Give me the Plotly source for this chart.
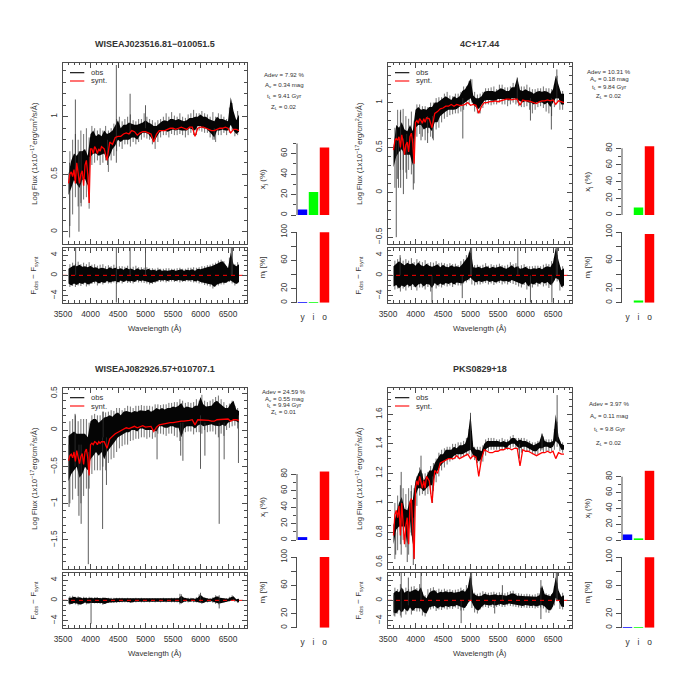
import plotly.graph_objects as go

W = 700.0

titles = ["WISEAJ023516.81\u2212010051.5", "4C+17.44", "WISEAJ082926.57+010707.1", "PKS0829+18"]
stats = [
    ["Adev = 7.92 %", "A<sub>v</sub> = 0.34 mag", "t<sub>L</sub> = 9.41 Gyr", "Z<sub>L</sub> = 0.02"],
    ["Adev = 10.31 %", "A<sub>v</sub> = 0.18 mag", "t<sub>L</sub> = 9.84 Gyr", "Z<sub>L</sub> = 0.02"],
    ["Adev = 24.59 %", "A<sub>v</sub> = 0.55 mag", "t<sub>L</sub> = 9.94 Gyr", "Z<sub>L</sub> = 0.01"],
    ["Adev = 3.97 %", "A<sub>v</sub> = 0.11 mag", "t<sub>L</sub> = 9.8 Gyr", "Z<sub>L</sub> = 0.02"],
]
bar_labels = ["y", "i", "o"]
bar_colors = ["#0000FF", "#00FF00", "#FF0000"]
x_light = [[5.3, 22.5, 65.8], [0, 9, 82.5], [3.5, 0, 83], [7, 1, 87.5]]
m_mass = [[0.5, 0.8, 99.5], [0, 3, 97], [0, 0, 100], [0.3, 0.3, 99.5]]

# dense black band, sampled every 50 A from 3600 to 6700
env_wave = [
    3600, 3650, 3700, 3750, 3800, 3850, 3900, 3950, 4000, 4050,
    4100, 4150, 4200, 4250, 4300, 4350, 4400, 4450, 4500, 4550,
    4600, 4650, 4700, 4750, 4800, 4850, 4900, 4950, 5000, 5050,
    5100, 5150, 5200, 5250, 5300, 5350, 5400, 5450, 5500, 5550,
    5600, 5650, 5700, 5750, 5800, 5850, 5900, 5950, 6000, 6050,
    6100, 6150, 6200, 6250, 6300, 6350, 6400, 6450, 6500, 6550,
    6600, 6650, 6700,
]
# grey noise fringe, sampled every 50 A between the band samples
fringe_wave = [
    3625, 3675, 3725, 3775, 3825, 3875, 3925, 3975, 4025, 4075,
    4125, 4175, 4225, 4275, 4325, 4375, 4425, 4475, 4525, 4575,
    4625, 4675, 4725, 4775, 4825, 4875, 4925, 4975, 5025, 5075,
    5125, 5175, 5225, 5275, 5325, 5375, 5425, 5475, 5525, 5575,
    5625, 5675, 5725, 5775, 5825, 5875, 5925, 5975, 6025, 6075,
    6125, 6175, 6225, 6275, 6325, 6375, 6425, 6475, 6525, 6575,
    6625, 6675,
]
synt_wave = [
    3600, 3625, 3650, 3675, 3700, 3725, 3750, 3775, 3800, 3825,
    3850, 3875, 3900, 3925, 3950, 3975, 4000, 4025, 4050, 4075,
    4100, 4125, 4150, 4175, 4200,
    4250, 4300, 4350, 4400, 4450, 4500, 4550, 4600, 4650, 4700,
    4750, 4800, 4850, 4900, 4950, 5000, 5050, 5100, 5150, 5200,
    5250, 5300, 5350, 5400, 5450, 5500, 5550, 5600, 5650, 5700,
    5750, 5800, 5850, 5900, 5950, 6000, 6050, 6100, 6150, 6200,
    6250, 6300, 6350, 6400, 6450, 6500, 6550, 6600, 6650, 6700,
]

obs_hi_1 = [
    .50, .62, .68, .66, .70, .70, .72, .66, .85, .88,
    .83, .85, .83, .88, .85, .86, .88, .93, .97, .90,
    .93, .93, .95, .94, .93, .93, .94, .95, .97, .95,
    .94, .92, .92, .94, .96, .97, .96, .98, .98, .97,
    .98, .97, .96, .97, .99, .99, 1.0, 1.0, 1.02, 1.0,
    1.0, .98, .97, .96, 1.0, .98, .98, .97, .96, 1.17,
    1.05, .97, 1.02,
]
obs_lo_1 = [
    .32, .38, .45, .42, .38, .45, .46, .40, .65, .68,
    .68, .66, .67, .68, .62, .66, .72, .75, .80, .78,
    .80, .80, .80, .82, .82, .80, .84, .86, .86, .85,
    .82, .78, .82, .86, .88, .88, .87, .88, .89, .88,
    .89, .88, .88, .88, .90, .89, .88, .92, .92, .90,
    .90, .88, .85, .82, .88, .88, .89, .88, .88, .93,
    .88, .85, .87,
]
obs_hi_2 = [
    .50, .75, .72, .78, .70, .68, .75, .68, .92, .95,
    .92, .93, .92, .95, .95, 1.0, 1.0, 1.03, 1.05, 1.07,
    1.05, 1.03, 1.07, 1.05, 1.07, 1.13, 1.15, 1.20, 1.27, 1.08,
    1.05, 1.05, 1.07, 1.12, 1.13, 1.13, 1.13, 1.12, 1.14, 1.16,
    1.15, 1.13, 1.13, 1.17, 1.17, 1.28, 1.14, 1.13, 1.15, 1.13,
    1.12, 1.10, 1.12, 1.13, 1.12, 1.13, 1.12, 1.10, 1.15, 1.30,
    1.20, 1.10, 1.10,
]
obs_lo_2 = [
    .28, .40, .45, .48, .42, .42, .42, .30, .72, .75,
    .75, .70, .72, .72, .68, .78, .78, .85, .88, .90,
    .92, .92, .92, .93, .95, .98, 1.0, 1.02, 1.05, .98,
    .95, .93, .98, 1.02, 1.03, 1.03, 1.02, 1.02, 1.04, 1.04,
    1.04, 1.04, 1.02, 1.05, 1.05, 1.04, 1.02, 1.0, 1.02, 1.0,
    1.0, .98, 1.0, 1.0, 1.0, .98, 1.0, .95, 1.0, 1.05,
    1.05, .98, .98,
]
obs_hi_3 = [
    -.08, -.05, -.02, -.05, -.05, -.05, -.05, -.10, .12, .15,
    .15, .10, .13, .17, .18, .20, .18, .22, .24, .20,
    .25, .26, .25, .24, .26, .25, .27, .27, .26, .28,
    .25, .27, .30, .28, .30, .28, .30, .30, .32, .31,
    .33, .37, .30, .32, .31, .30, .33, .33, .45, .35,
    .32, .33, .33, .38, .40, .36, .33, .30, .30, .36,
    .40, .28, .26,
]
obs_lo_3 = [
    -.70, -.60, -.55, -.50, -.65, -.60, -.50, -.55, -.40, -.35,
    -.30, -.35, -.30, -.40, -.30, -.25, -.20, -.15, -.10, -.08,
    -.05, -.03, -.03, .0, .0, -.02, .02, .02, .0, .0,
    .0, .0, -.02, .05, .05, .03, .03, .05, .05, .03,
    .03, -.10, .02, .05, .05, .05, .02, .06, .08, .05,
    .07, .07, .08, .06, .05, .05, .07, .05, .10, .12,
    .13, .12, .10,
]
obs_hi_4 = [
    .85, .93, 1.0, 1.04, .96, .95, 1.02, 1.02, 1.15, 1.20,
    1.23, 1.15, 1.18, 1.22, 1.22, 1.27, 1.30, 1.33, 1.33, 1.36,
    1.36, 1.36, 1.38, 1.37, 1.39, 1.39, 1.40, 1.45, 1.60, 1.38,
    1.36, 1.36, 1.35, 1.40, 1.42, 1.42, 1.42, 1.42, 1.42, 1.41,
    1.42, 1.41, 1.42, 1.44, 1.44, 1.42, 1.43, 1.42, 1.42, 1.41,
    1.40, 1.39, 1.40, 1.41, 1.47, 1.42, 1.41, 1.41, 1.42, 1.60,
    1.45, 1.40, 1.39,
]
obs_lo_4 = [
    .72, .82, .84, .84, .84, .72, .88, .72, 1.05, 1.10,
    1.10, 1.08, 1.10, 1.12, 1.12, 1.18, 1.22, 1.25, 1.27, 1.29,
    1.30, 1.30, 1.32, 1.33, 1.33, 1.33, 1.34, 1.35, 1.36, 1.32,
    1.30, 1.28, 1.30, 1.35, 1.37, 1.38, 1.38, 1.38, 1.38, 1.38,
    1.38, 1.37, 1.39, 1.40, 1.40, 1.38, 1.37, 1.38, 1.38, 1.37,
    1.36, 1.35, 1.35, 1.37, 1.37, 1.38, 1.38, 1.37, 1.38, 1.42,
    1.40, 1.36, 1.36,
]

fr_hi_1 = [
    .70, .80, .85, .80, .88, .85, .90, .82, .92, .90,
    .88, .90, .88, .92, .88, .90, .94, .98, 1.0, .96,
    .98, 1.0, 1.02, .97, .96, .98, .98, 1.03, 1.0, .98,
    .97, .95, .97, .98, 1.0, 1.03, 1.0, 1.04, 1.01, 1.0,
    1.03, 1.0, .99, 1.02, 1.03, 1.06, 1.03, 1.03, 1.05, 1.03,
    1.02, 1.0, 1.04, 1.0, 1.03, 1.02, 1.0, .98, 1.08, 1.12,
    .99, 1.05,
]
fr_lo_1 = [
    .05, .15, .30, .22, .25, .28, .30, .20, .58, .60,
    .62, .58, .60, .62, .52, .62, .66, .70, .74, .72,
    .76, .76, .74, .78, .76, .78, .80, .82, .81, .80,
    .76, .72, .78, .82, .84, .84, .82, .85, .84, .84,
    .85, .84, .82, .84, .86, .84, .84, .88, .87, .86,
    .86, .82, .80, .78, .84, .84, .86, .84, .86, .88,
    .83, .84,
]
fr_hi_2 = [
    .72, .92, .90, .93, .85, .82, .90, .80, .98, .98,
    .96, .96, .95, 1.0, 1.0, 1.05, 1.06, 1.06, 1.10, 1.12,
    1.08, 1.07, 1.10, 1.10, 1.12, 1.18, 1.18, 1.24, 1.26, 1.12,
    1.09, 1.10, 1.12, 1.16, 1.16, 1.17, 1.18, 1.15, 1.20, 1.20,
    1.17, 1.17, 1.18, 1.22, 1.20, 1.20, 1.18, 1.18, 1.20, 1.17,
    1.15, 1.15, 1.16, 1.16, 1.18, 1.16, 1.16, 1.15, 1.20, 1.30,
    1.13, 1.13,
]
fr_lo_2 = [
    .05, .15, .25, .25, .22, .25, .20, .10, .62, .65,
    .62, .58, .66, .62, .58, .70, .72, .78, .82, .84,
    .86, .87, .88, .88, .90, .92, .96, .98, 1.0, .90,
    .88, .88, .94, .98, .98, .97, .98, .98, 1.0, .98,
    .98, .96, .98, 1.0, .98, .96, .95, .95, .96, .92,
    .88, .92, .95, .96, .94, .90, .88, .85, .95, 1.0,
    .92, .92,
]
fr_hi_3 = [
    .12, .15, .20, .12, .15, .15, .15, .10, .20, .22,
    .20, .20, .25, .24, .25, .27, .26, .30, .30, .27,
    .30, .33, .32, .30, .33, .33, .34, .33, .33, .33,
    .32, .35, .35, .34, .35, .35, .37, .37, .38, .38,
    .42, .40, .37, .38, .37, .38, .42, .40, .48, .40,
    .38, .40, .42, .45, .47, .42, .38, .34, .36, .40,
    .33, .30,
]
fr_lo_3 = [
    -1.0, -.95, -.80, -.90, -1.0, -.90, -.80, -.80, -.60, -.55,
    -.55, -.55, -.50, -.55, -.45, -.40, -.38, -.30, -.25, -.22,
    -.20, -.20, -.15, -.14, -.12, -.12, -.10, -.10, -.12, -.10,
    -.12, -.10, -.05, -.05, -.06, -.08, -.05, -.05, -.08, -.10,
    -.15, -.05, -.03, -.02, -.02, -.06, -.03, -.03, -.05, .0,
    -.03, -.02, -.02, -.06, -.10, -.05, -.08, .0, .03, .05,
    .06, .02,
]
fr_hi_4 = [
    1.0, 1.05, 1.12, 1.10, 1.06, 1.10, 1.12, 1.10, 1.18, 1.24,
    1.20, 1.20, 1.21, 1.25, 1.27, 1.30, 1.34, 1.36, 1.37, 1.38,
    1.38, 1.40, 1.40, 1.41, 1.41, 1.42, 1.44, 1.50, 1.42, 1.38,
    1.38, 1.38, 1.39, 1.43, 1.44, 1.44, 1.44, 1.43, 1.43, 1.44,
    1.43, 1.43, 1.45, 1.46, 1.44, 1.44, 1.44, 1.44, 1.43, 1.42,
    1.41, 1.41, 1.42, 1.43, 1.45, 1.43, 1.43, 1.43, 1.50, 1.55,
    1.42, 1.41,
]
fr_lo_4 = [
    .62, .68, .72, .75, .70, .65, .78, .62, .98, 1.05,
    1.06, 1.05, 1.06, 1.06, 1.08, 1.14, 1.18, 1.22, 1.24, 1.26,
    1.28, 1.29, 1.30, 1.30, 1.31, 1.31, 1.32, 1.33, 1.31, 1.29,
    1.27, 1.26, 1.28, 1.32, 1.35, 1.36, 1.36, 1.36, 1.36, 1.36,
    1.36, 1.36, 1.37, 1.38, 1.37, 1.36, 1.34, 1.36, 1.35, 1.35,
    1.33, 1.33, 1.33, 1.35, 1.34, 1.35, 1.35, 1.35, 1.36, 1.38,
    1.35, 1.34,
]

synt_1 = [
    .42, .50, .52, .48, .54, .42, .60, .52, .42, .50,
    .53, .40, .58, .62, .50, .25, .72, .72, .68, .74,
    .72, .68, .72, .70, .74,
    .72, .62, .78, .76, .82, .83, .83, .85, .86, .85,
    .88, .87, .84, .86, .87, .87, .86, .85, .78, .85,
    .88, .88, .88, .89, .90, .90, .89, .90, .91, .90,
    .89, .91, .91, .83, .90, .91, .91, .90, .89, .88,
    .88, .89, .90, .90, .91, .90, .86, .89, .89, .88,
]
synt_2 = [
    .47, .58, .60, .58, .62, .50, .64, .56, .42, .53,
    .56, .45, .62, .66, .55, .32, .78, .80, .77, .82,
    .80, .77, .82, .78, .83,
    .82, .72, .88, .90, .93, .94, .96, .96, .98, .96,
    .98, .97, .97, .98, 1.0, .97, .98, .97, .88, .96,
    1.0, 1.0, 1.01, 1.01, 1.02, 1.01, 1.02, 1.03, 1.04, 1.04,
    1.03, 1.04, 1.04, .97, 1.03, 1.02, 1.02, 1.01, 1.0, .99,
    1.01, 1.02, 1.02, 1.03, 1.02, 1.03, .98, 1.02, 1.01, 1.0,
]
synt_3 = [
    -.42, -.35, -.33, -.38, -.30, -.43, -.28, -.36, -.46, -.36,
    -.32, -.47, -.30, -.26, -.38, -.62, -.20, -.18, -.20, -.16,
    -.17, -.20, -.16, -.18, -.16,
    -.16, -.25, -.12, -.08, -.05, -.03, -.01, .01, .03, .02,
    .04, .05, .03, .04, .06, .04, .05, .05, -.02, .04,
    .07, .08, .09, .09, .10, .10, .11, .11, .12, .12,
    .12, .13, .14, .07, .14, .14, .14, .13, .13, .12,
    .12, .14, .14, .15, .15, .15, .12, .14, .14, .13,
]
synt_4 = [
    .78, .92, .95, .90, .98, .78, 1.0, .88, .72, .85,
    .90, .72, 1.0, 1.03, .85, .62, 1.10, 1.15, 1.12, 1.18,
    1.14, 1.10, 1.15, 1.10, 1.18,
    1.15, 1.0, 1.22, 1.20, 1.27, 1.28, 1.29, 1.30, 1.30, 1.30,
    1.32, 1.30, 1.31, 1.32, 1.33, 1.30, 1.32, 1.31, 1.18, 1.30,
    1.36, 1.35, 1.34, 1.34, 1.35, 1.35, 1.36, 1.36, 1.37, 1.37,
    1.36, 1.37, 1.37, 1.25, 1.36, 1.35, 1.35, 1.34, 1.33, 1.32,
    1.33, 1.34, 1.34, 1.35, 1.34, 1.35, 1.30, 1.34, 1.33, 1.33,
]

res_hi_1 = [
    1.3, 1.7, 2.0, 1.8, 2.1, 1.7, 1.8, 1.6, 1.9, 1.5,
    1.6, 1.3, 1.5, 1.4, 1.2, 1.6, 1.3, 1.5, 1.2, 1.4,
    1.1, 1.5, 1.2, 1.3, 1.0, 1.4, 1.1, 1.2, 1.0, 1.3,
    1.0, 1.1, 0.9, 1.2, 0.9, 1.0, 0.9, 1.0, 1.1, 0.9,
    1.0, 1.2, 0.9, 1.1, 1.0, 1.2, 0.9, 1.3, 1.2, 1.4,
    1.5, 1.7, 1.8, 2.0, 2.3, 2.6, 2.8, 2.2, 1.4, 4.5,
    2.2, 1.8, 2.2,
]
res_lo_1 = [
    -1.6, -2.0, -1.6, -1.9, -1.5, -1.7, -1.4, -1.8, -1.6, -1.3,
    -1.2, -1.6, -1.3, -1.5, -1.1, -1.4, -1.2, -1.1, -1.4, -1.0,
    -1.3, -1.0, -1.2, -1.1, -1.3, -0.9, -1.1, -1.0, -1.2, -1.3,
    -1.5, -1.3, -1.2, -0.9, -1.0, -0.9, -1.1, -0.9, -0.9, -1.1,
    -0.9, -1.0, -1.1, -0.9, -1.0, -0.9, -1.2, -1.0, -1.3, -1.4,
    -1.6, -1.7, -1.8, -2.3, -1.8, -1.6, -1.4, -1.5, -1.2, -1.0,
    -1.4, -1.7, -1.3,
]
res_hi_2 = [
    1.8, 2.3, 2.8, 2.4, 2.0, 2.5, 2.2, 2.4, 1.9, 2.6,
    2.0, 1.8, 2.3, 1.9, 1.7, 1.9, 2.2, 1.6, 2.1, 1.7,
    1.6, 2.0, 1.7, 1.8, 1.6, 2.2, 2.8, 3.6, 5.4, 1.6,
    1.5, 1.7, 1.4, 1.6, 1.8, 1.4, 1.7, 1.5, 1.6, 1.8,
    1.5, 1.3, 1.6, 2.0, 1.5, 1.8, 1.3, 1.4, 1.7, 1.3,
    1.2, 1.4, 1.3, 1.5, 1.2, 1.6, 1.8, 1.6, 2.5, 5.4,
    3.0, 1.0, 1.4,
]
res_lo_2 = [
    -2.2, -1.9, -2.6, -2.0, -2.3, -1.8, -2.2, -1.7, -2.4, -1.8,
    -1.6, -2.2, -1.7, -1.8, -2.5, -1.5, -2.0, -1.6, -1.9, -1.5,
    -1.7, -1.4, -1.8, -1.4, -1.5, -1.6, -1.1, -0.9, -0.4, -1.0,
    -1.4, -1.1, -1.3, -1.2, -1.0, -1.3, -1.1, -1.4, -1.2, -1.0,
    -1.2, -1.1, -1.3, -0.9, -1.2, -1.4, -1.6, -1.8, -1.3, -2.2,
    -1.6, -1.8, -1.4, -1.7, -1.3, -1.6, -1.3, -1.9, -1.5, -0.5,
    -0.8, -2.3, -2.0,
]
res_hi_3 = [
    .5, .5, .7, .5, .6, .4, .5, .4, .5, .4,
    .5, .4, .4, .5, .4, .4, .3, .4, .4, .3,
    .4, .3, .4, .3, .3, .4, .3, .4, .3, .3,
    .3, .3, .3, .3, .3, .4, .3, .3, .4, .3,
    .4, .9, .5, .4, .3, .4, .3, .5, 1.1, .6,
    .4, .3, .3, .5, .8, .5, .4, .3, .3, .6,
    .8, .2, .3,
]
res_lo_3 = [
    -.6, -.7, -.5, -.6, -.8, -.7, -.4, -.6, -.5, -.4,
    -.4, -.5, -.5, -.7, -.5, -.4, -.4, -.3, -.4, -.3,
    -.3, -.3, -.3, -.4, -.3, -.3, -.2, -.3, -.3, -.2,
    -.3, -.2, -.3, -.2, -.3, -.2, -.3, -.2, -.3, -.3,
    -.3, -.6, -.3, -.2, -.3, -.2, -.3, -.3, -.4, -.5,
    -.3, -.3, -.2, -.4, -.5, -.6, -.4, -.3, -.2, -.1,
    .1, -.1, -.4,
]
res_hi_4 = [
    1.4, 1.9, 1.6, 2.6, 1.5, 1.9, 1.7, 2.0, 2.2, 1.8,
    2.6, 0.9, 0.4, 1.5, 1.9, 2.0, 1.4, 1.7, 1.6, 1.8,
    1.6, 1.7, 1.5, 1.6, 1.7, 2.0, 1.7, 2.5, 5.4, 1.4,
    1.0, 0.8, 0.9, 1.3, 1.2, 1.0, 1.1, 1.2, 1.0, 1.1,
    1.0, 0.9, 1.1, 1.4, 1.3, 0.9, 0.9, 0.8, 0.8, 0.8,
    0.8, 0.7, 0.7, 1.0, 3.0, 1.2, 1.0, 0.8, 1.6, 4.6,
    2.0, 0.7, 1.0,
]
res_lo_4 = [
    -2.4, -2.6, -1.8, -2.4, -1.6, -2.2, -1.4, -2.1, -1.5, -1.6,
    -1.6, -2.4, -2.6, -1.4, -1.2, -1.1, -1.6, -1.2, -1.4, -1.1,
    -1.3, -1.1, -1.2, -0.9, -1.2, -1.4, -1.5, -0.7, 0.2, -1.0,
    -1.8, -2.0, -1.3, -0.8, -0.9, -1.0, -0.8, -1.0, -0.8, -0.7,
    -0.9, -0.8, -0.6, -0.7, -0.8, -0.9, -1.0, -1.1, -0.9, -1.0,
    -1.1, -1.0, -1.2, -1.0, -0.9, -1.2, -1.8, -2.0, -1.2, 0.5,
    0.0, -1.2, -1.3,
]

res_fr_hi_1 = [
    2.2, 2.5, 2.3, 2.7, 2.2, 2.5, 2.2, 2.6, 2.1, 2.2,
    1.9, 2.1, 2.2, 1.8, 2.0, 1.8, 2.1, 1.7, 1.8, 1.8,
    1.7, 1.9, 1.5, 1.7, 1.9, 1.6, 1.6, 1.5, 1.6, 1.4,
    1.4, 1.3, 1.5, 1.3, 1.3, 1.4, 1.4, 1.3, 1.3, 1.4,
    1.5, 1.3, 1.3, 1.5, 1.5, 1.6, 1.5, 1.6, 1.8, 1.8,
    2.0, 2.1, 2.3, 2.5, 2.9, 3.1, 2.8, 1.8, 3.5, 2.5,
    2.2, 2.6,
]
res_fr_lo_1 = [
    -2.3, -2.1, -2.3, -2.0, -2.1, -1.8, -2.2, -2.0, -1.7, -1.6,
    -2.0, -1.6, -1.8, -1.5, -1.6, -1.6, -1.4, -1.7, -1.4, -1.6,
    -1.3, -1.5, -1.5, -1.6, -1.3, -1.4, -1.4, -1.5, -1.6, -1.8,
    -1.7, -1.5, -1.3, -1.3, -1.2, -1.4, -1.3, -1.2, -1.3, -1.2,
    -1.4, -1.3, -1.2, -1.2, -1.3, -1.4, -1.4, -1.6, -1.6, -1.9,
    -2.0, -2.2, -2.6, -2.2, -2.0, -1.8, -1.8, -1.5, -1.3, -1.6,
    -2.0, -1.6,
]
res_fr_hi_2 = [
    2.9, 3.2, 3.5, 2.9, 3.2, 2.9, 3.4, 2.6, 3.2, 2.8,
    2.6, 3.0, 2.4, 2.6, 2.5, 2.8, 2.4, 2.5, 2.4, 2.2,
    2.4, 2.2, 2.3, 2.0, 2.8, 3.2, 4.0, 4.5, 2.2, 2.0,
    2.1, 1.9, 2.1, 2.4, 1.9, 2.2, 2.0, 2.1, 2.3, 2.0,
    1.9, 2.1, 2.6, 2.2, 2.4, 1.8, 2.0, 2.2, 1.8, 1.8,
    1.8, 1.9, 1.9, 1.8, 2.1, 2.3, 2.2, 2.8, 3.5, 4.0,
    1.6, 1.8,
]
res_fr_lo_2 = [
    -2.8, -2.6, -3.2, -2.6, -3.0, -2.4, -2.9, -2.3, -3.0, -2.4,
    -2.4, -2.8, -2.3, -3.2, -2.0, -2.6, -2.2, -2.4, -2.0, -2.2,
    -2.0, -2.3, -1.9, -2.0, -2.0, -1.6, -1.4, -1.0, -1.8, -2.0,
    -1.8, -1.8, -1.6, -1.5, -1.8, -1.6, -1.9, -1.6, -1.5, -1.8,
    -1.6, -1.8, -1.5, -1.7, -1.9, -2.2, -2.4, -1.9, -2.8, -2.2,
    -2.4, -1.9, -2.2, -1.8, -2.2, -2.0, -2.5, -2.0, -1.0, -1.2,
    -3.0, -2.4,
]
res_fr_hi_3 = [
    .8, .9, .7, .8, .6, .7, .6, .7, .6, .6,
    .6, .5, .6, .5, .5, .5, .5, .5, .5, .5,
    .4, .5, .4, .4, .5, .4, .5, .4, .4, .4,
    .4, .4, .4, .4, .5, .4, .4, .5, .5, .5,
    1.3, .7, .5, .5, .5, .4, .6, 1.2, .8, .5,
    .4, .4, .6, 1.0, .8, .5, .4, .4, .7, 1.0,
    .3, .3,
]
res_fr_lo_3 = [
    -.9, -.7, -.8, -1.0, -.9, -.6, -.8, -.6, -.5, -.6,
    -.6, -.7, -.9, -.7, -.5, -.5, -.5, -.5, -.4, -.4,
    -.4, -.4, -.5, -.4, -.4, -.3, -.4, -.4, -.3, -.4,
    -.3, -.4, -.3, -.4, -.3, -.4, -.3, -.4, -.4, -.4,
    -.8, -.4, -.3, -.4, -.3, -.4, -.4, -.5, -.7, -.4,
    -.4, -.3, -.5, -.7, -.8, -.5, -.4, -.3, -.2, -.1,
    -.3, -.5,
]
res_fr_hi_4 = [
    2.5, 2.2, 3.2, 2.2, 2.5, 2.2, 2.7, 2.8, 2.4, 3.2,
    1.6, 1.0, 2.2, 2.4, 2.6, 2.0, 2.3, 2.1, 2.3, 2.1,
    2.2, 2.0, 2.1, 2.2, 2.5, 2.2, 3.0, 3.0, 2.0, 1.5,
    1.3, 1.5, 1.8, 1.6, 1.5, 1.6, 1.7, 1.5, 1.6, 1.5,
    1.4, 1.6, 1.8, 1.9, 1.4, 1.4, 1.3, 1.2, 1.3, 1.2,
    1.1, 1.2, 1.4, 2.5, 1.8, 1.4, 1.2, 1.2, 2.8, 3.5,
    1.2, 1.5,
]
res_fr_lo_4 = [
    -3.2, -2.6, -3.0, -2.2, -2.8, -2.0, -2.8, -2.1, -2.2, -2.2,
    -3.0, -3.2, -2.0, -1.8, -1.6, -2.1, -1.8, -1.9, -1.6, -1.8,
    -1.6, -1.7, -1.4, -1.7, -2.0, -2.0, -1.1, -0.3, -1.5, -2.4,
    -2.6, -1.8, -1.4, -1.3, -1.5, -1.3, -1.5, -1.3, -1.1, -1.3,
    -1.3, -1.0, -1.1, -1.2, -1.3, -1.4, -1.5, -1.4, -1.5, -1.5,
    -1.5, -1.6, -1.5, -1.4, -1.6, -2.4, -2.5, -1.8, -1.0, -0.2,
    -1.7, -1.8,
]

# narrow features drawn on top of the envelope: wavelength, lowest, highest
spike_wave_1 = [3620, 3725, 3790, 3830, 3980, 4310, 4470, 4720, 5000, 6250]
spike_lo_1 = [-.05, .45, .0, .22, .25, .58, .60, .85, .90, .80]
spike_hi_1 = [.60, 1.15, .70, .70, .65, .80, 1.45, 1.20, 1.10, .90]
spike_wave_2 = [3650, 3690, 3730, 3780, 3840, 3960, 4100, 4220, 4310, 4860, 5850, 6090, 6470, 6570]
spike_lo_2 = [-.50, .05, .05, -.02, .15, .03, .58, .55, .60, .60, 1.0, .80, .70, 1.05]
spike_hi_2 = [.70, .60, .92, .60, .65, .60, .80, .85, .85, 1.05, 1.28, 1.05, 1.05, 1.37]
spike_wave_3 = [3610, 3720, 3790, 3830, 3960, 4220, 4230, 4290, 5210, 5640, 5680, 6000, 6080, 6340, 6430, 6690]
spike_lo_3 = [-1.05, -.5, -1.17, -1.28, -1.83, -1.35, -.1, -.75, -.40, -.35, -.42, -.53, -.35, -1.28, -.40, -.45]
spike_hi_3 = [-.2, .22, -.2, -.2, -.3, -.1, .25, -.1, .05, .1, .1, .2, .1, .1, .1, .2]
spike_wave_4 = [3640, 3740, 3850, 3920, 3960, 4100, 4310, 5000, 6300, 6575, 5890]
spike_lo_4 = [.65, .65, .60, .80, .58, 1.10, 1.0, 1.36, 1.36, 1.42, 1.30]
spike_hi_4 = [.80, 1.21, .90, 1.08, .90, 1.32, 1.18, 1.61, 1.47, 1.73, 1.40]

res_spike_wave_1 = [3730, 4470, 4720, 5000, 6560, 6580]
res_spike_lo_1 = [0, -5.4, 0, 0, 0, 0]
res_spike_hi_1 = [5.4, 5.4, 5.4, 5.4, 5.4, 5.4]
res_spike_wave_2 = [3720, 4300, 4850, 5000, 5020, 5860, 6090, 6480, 6560, 6580]
res_spike_lo_2 = [0, -5.4, -4.5, 0, 0, 0, -5.4, -5.4, 0, 0]
res_spike_hi_2 = [4, 0, 0, 5.4, 5.4, 5.4, 0, 0, 5.4, 5.4]
res_spike_wave_3 = [4010, 5650, 6000, 6340]
res_spike_lo_3 = [-4.6, -.5, -.5, -1.6]
res_spike_hi_3 = [0, 1.2, 1.5, 1.0]
res_spike_wave_4 = [3610, 3740, 3870, 4100, 4830, 5000, 5020, 5440, 5580, 6280, 6560, 6580]
res_spike_lo_4 = [-3, -3.4, -1, 0, -4.5, 0, 0, -2.6, 0, -3.7, 0, 0]
res_spike_hi_4 = [1, 5.4, 4.5, 5.4, 0, 5.4, 5.4, 0, 3, 4, 5.4, 5.4]

obs_hi = [obs_hi_1, obs_hi_2, obs_hi_3, obs_hi_4]
obs_lo = [obs_lo_1, obs_lo_2, obs_lo_3, obs_lo_4]
fr_hi = [fr_hi_1, fr_hi_2, fr_hi_3, fr_hi_4]
fr_lo = [fr_lo_1, fr_lo_2, fr_lo_3, fr_lo_4]
synt = [synt_1, synt_2, synt_3, synt_4]
res_hi = [res_hi_1, res_hi_2, res_hi_3, res_hi_4]
res_lo = [res_lo_1, res_lo_2, res_lo_3, res_lo_4]
res_fr_hi = [res_fr_hi_1, res_fr_hi_2, res_fr_hi_3, res_fr_hi_4]
res_fr_lo = [res_fr_lo_1, res_fr_lo_2, res_fr_lo_3, res_fr_lo_4]
spikes = [(spike_wave_1, spike_lo_1, spike_hi_1), (spike_wave_2, spike_lo_2, spike_hi_2),
          (spike_wave_3, spike_lo_3, spike_hi_3), (spike_wave_4, spike_lo_4, spike_hi_4)]
res_spikes = [(res_spike_wave_1, res_spike_lo_1, res_spike_hi_1), (res_spike_wave_2, res_spike_lo_2, res_spike_hi_2),
              (res_spike_wave_3, res_spike_lo_3, res_spike_hi_3), (res_spike_wave_4, res_spike_lo_4, res_spike_hi_4)]

for a in obs_hi + obs_lo + res_hi + res_lo:
    assert len(a) == len(env_wave), len(a)
for a in fr_hi + fr_lo + res_fr_hi + res_fr_lo:
    assert len(a) == len(fringe_wave), len(a)
for a in synt:
    assert len(a) == len(synt_wave), len(a)

# layout of each panel in window pixels
col_x = [0, 325]
row_y = [0, 325]
main_ranges = [[-0.107, 1.47], [-0.576, 1.445], [-1.896, 0.577], [0.553, 1.78]]
main_major = [0.5, 0.5, 0.5, 0.2]
main_minor = [0.1, 0.1, 0.1, 0.05]
x_axis_top = [70, 80, 80, 80]
x_range_top = [70, 83, 83.5, 88]
x_bar_top_px = [143.3, 148.3, 474.0, 476.7]
x_bar_zero_px = [215, 215, 540, 540]
stat_y = [[75, 85.3, 96, 106.7], [71.3, 78.7, 87, 95.7], [391.7, 398.7, 405.3, 411.7], [403.3, 416, 429.3, 442.7]]

AXC = "#4d4d4d"
FONT = "Liberation Sans"
TICK = 8.4
TXT = "#333333"

fig = go.Figure()
layout = dict(
    template="none",
    width=700, height=700, autosize=False, margin=dict(l=0, r=0, t=0, b=0, pad=0),
    paper_bgcolor="white", plot_bgcolor="white", showlegend=False,
    font=dict(family=FONT, size=TICK, color=TXT), barmode="overlay",
)
annotations, shapes = [], []


def fx(p):
    return p / W


def fy(p):
    return 1 - p / W


def text(x, y, s, size=TICK, angle=0, bold=False, xanchor="center"):
    annotations.append(dict(
        x=fx(x), y=fy(y), xref="paper", yref="paper", text=f"<b>{s}</b>" if bold else s,
        showarrow=False, font=dict(size=size, family=FONT, color=TXT), textangle=angle,
        xanchor=xanchor, yanchor="middle", borderpad=0, borderwidth=0,
    ))


def band(wave, hi, lo):
    return list(wave) + list(wave)[::-1], list(hi) + list(lo)[::-1]


def bars(xs, lo, hi):
    X, Y = [], []
    for w, a, b in zip(xs, lo, hi):
        X += [w, w, None]
        Y += [a, b, None]
    return X, Y


def minor(d, t0=0):
    return dict(dtick=d, tick0=t0, ticks="inside", ticklen=2.5, tickwidth=0.7, tickcolor=AXC)


def frame(**kw):
    return dict(showgrid=False, zeroline=False, showline=True, linecolor=AXC, linewidth=1.3,
                mirror="ticks", ticks="inside", ticklen=5, tickwidth=0.8, tickcolor=AXC,
                automargin=False, **kw)


def noise(kw, hi, lo, fhi, flo, spk):
    sx, sy = bars(fringe_wave, flo, fhi)
    fig.add_trace(go.Scatter(x=sx, y=sy, line=dict(color="#707070", width=1.0), connectgaps=False, **kw))
    bx, by = band(env_wave, hi, lo)
    fig.add_trace(go.Scatter(x=bx, y=by, fill="toself", fillcolor="#050505", line=dict(width=0), **kw))
    sx, sy = bars(spk[0], spk[1], spk[2])
    fig.add_trace(go.Scatter(x=sx, y=sy, line=dict(color="#333333", width=0.8), connectgaps=False, **kw))


n = 0
for i in range(4):
    ox = col_x[i % 2]
    oy = row_y[i // 2]
    ax = [n + k + 1 for k in range(4)]
    n += 4
    name = lambda pre, a: f"{pre}{a}" if a > 1 else pre
    # main spectrum
    x0, x1, y0, y1 = 63 + ox, 246.7 + ox, 62.7 + oy, 244 + oy
    layout[name("xaxis", ax[0])] = frame(
        domain=[fx(x0), fx(x1)], anchor=name("y", ax[0]), range=[3500, 6840], dtick=500, tick0=3500,
        showticklabels=False, minor=minor(100),
    )
    layout[name("yaxis", ax[0])] = frame(
        domain=[fy(y1), fy(y0)], anchor=name("x", ax[0]), range=main_ranges[i], dtick=main_major[i],
        tick0=0, tickangle=-90, ticklabelstandoff=2, minor=minor(main_minor[i]),
    )
    kw = dict(xaxis=name("x", ax[0]), yaxis=name("y", ax[0]), mode="lines", hoverinfo="skip")
    noise(kw, obs_hi[i], obs_lo[i], fr_hi[i], fr_lo[i], spikes[i])
    fig.add_trace(go.Scatter(x=synt_wave, y=synt[i], line=dict(color="#FF0000", width=1.3), **kw))
    # residuals
    ry0, ry1 = 248 + oy, 302.7 + oy
    layout[name("xaxis", ax[1])] = frame(
        domain=[fx(x0), fx(x1)], anchor=name("y", ax[1]), range=[3500, 6840], dtick=500, tick0=3500,
        tickangle=0, ticklabelstandoff=3, tickformat="d", minor=minor(100),
    )
    layout[name("yaxis", ax[1])] = frame(
        domain=[fy(ry1), fy(ry0)], anchor=name("x", ax[1]), range=[-5.4, 5.4],
        tickvals=[-4, 0, 4], ticktext=["\u22124", "0", "4"], tickangle=-90,
        ticklabelstandoff=2, minor=minor(1),
    )
    kw = dict(xaxis=name("x", ax[1]), yaxis=name("y", ax[1]), mode="lines", hoverinfo="skip")
    noise(kw, res_hi[i], res_lo[i], res_fr_hi[i], res_fr_lo[i], res_spikes[i])
    fig.add_trace(go.Scatter(x=[3500, 6840], y=[0, 0], line=dict(color="#FF0000", width=1, dash="4px,4px"), **kw))
    # light fractions
    bx0, bx1 = 297 + ox, 330 + ox
    zero, top80 = x_bar_zero_px[i], x_bar_top_px[i]
    top_px = zero - (zero - top80) * x_range_top[i] / x_axis_top[i]
    layout[name("xaxis", ax[2])] = dict(
        domain=[fx(bx0), fx(bx1)], anchor=name("y", ax[2]), range=[-0.5, 2.5], type="linear",
        showgrid=False, zeroline=False, showline=False, showticklabels=False, ticks="", automargin=False,
    )
    layout[name("yaxis", ax[2])] = dict(
        domain=[fy(zero), fy(top_px)], anchor=name("x", ax[2]), range=[0, x_range_top[i]],
        showgrid=False, zeroline=False, showline=False, ticks="outside", ticklen=5,
        tickwidth=0.8, tickcolor=AXC, tick0=0, dtick=20, tickangle=-90, ticklabelstandoff=1, automargin=False,
        minor=dict(dtick=10, ticks="outside", ticklen=3, tickwidth=0.7, tickcolor=AXC),
    )
    shapes.append(dict(type="line", xref="paper", yref=name("y", ax[2]), x0=fx(bx0), x1=fx(bx0),
                       y0=0, y1=x_axis_top[i], line=dict(color=AXC, width=1)))
    fig.add_trace(go.Bar(x=[0, 1, 2], y=x_light[i], width=0.86, marker=dict(color=bar_colors, line=dict(width=0)),
                         xaxis=name("x", ax[2]), yaxis=name("y", ax[2]), hoverinfo="skip"))
    # mass fractions
    layout[name("xaxis", ax[3])] = dict(
        domain=[fx(bx0), fx(bx1)], anchor=name("y", ax[3]), range=[-0.5, 2.5], type="linear",
        showgrid=False, zeroline=False, showline=False, tickvals=[0, 1, 2], ticktext=bar_labels, ticks="",
        ticklabelstandoff=8, tickangle=0, automargin=False,
    )
    layout[name("yaxis", ax[3])] = dict(
        domain=[fy(ry1), fy(232 + oy)], anchor=name("x", ax[3]), range=[0, 100],
        showgrid=False, zeroline=False, showline=True, linecolor=AXC, linewidth=1, ticks="outside", ticklen=5,
        tickwidth=0.8, tickcolor=AXC, tickangle=-90, ticklabelstandoff=1, automargin=False,
        tickvals=[0, 20, 60, 100], ticktext=["0", "20", "60", "100"],
        minor=dict(tickvals=[40, 80], ticks="outside", ticklen=5, tickwidth=0.8, tickcolor=AXC),
    )
    fig.add_trace(go.Bar(x=[0, 1, 2], y=m_mass[i], width=0.86, marker=dict(color=bar_colors, line=dict(width=0)),
                         xaxis=name("x", ax[3]), yaxis=name("y", ax[3]), cliponaxis=False, hoverinfo="skip"))

    # texts
    text((x0 + x1) / 2, 44 + oy, titles[i], size=9.0, bold=True)
    text((x0 + x1) / 2, 328 + oy, "Wavelength (\u00c5)", size=7.8)
    text(34.5 + ox, (y0 + y1) / 2, "Log Flux (1x10<sup>\u221217</sup>erg/cm<sup>2</sup>/s/\u00c5)", size=7.7, angle=-90)
    text(34.5 + ox, (ry0 + ry1) / 2, "F<sub>obs</sub> \u2212 F<sub>synt</sub>", size=8.0, angle=-90)
    text(263 + ox, (zero + top80) / 2, "x<sub>j</sub> (%)", size=8.0, angle=-90)
    text(263 + ox, (ry1 + 232 + oy) / 2, "m<sub>j</sub> [%]", size=8.0, angle=-90)
    for s, sy_px in zip(stats[i], stat_y[i]):
        text(284 + ox, sy_px, s, size=6.1)
    # legend
    for lab, ly, c in (("obs", 72.7, "black"), ("synt.", 81, "#FF0000")):
        shapes.append(dict(type="line", xref="paper", yref="paper", x0=fx(70 + ox), x1=fx(84.3 + ox),
                           y0=fy(ly + oy), y1=fy(ly + oy), line=dict(color=c, width=1.1)))
        text(91 + ox, ly + oy, lab, size=7.6, xanchor="left")

layout["annotations"] = annotations
layout["shapes"] = shapes
fig.update_layout(**layout)
fig.write_html(
    "out.html", config=dict(displayModeBar=False),
    post_script="document.body.style.margin='0';document.documentElement.style.overflow='hidden';",
)
